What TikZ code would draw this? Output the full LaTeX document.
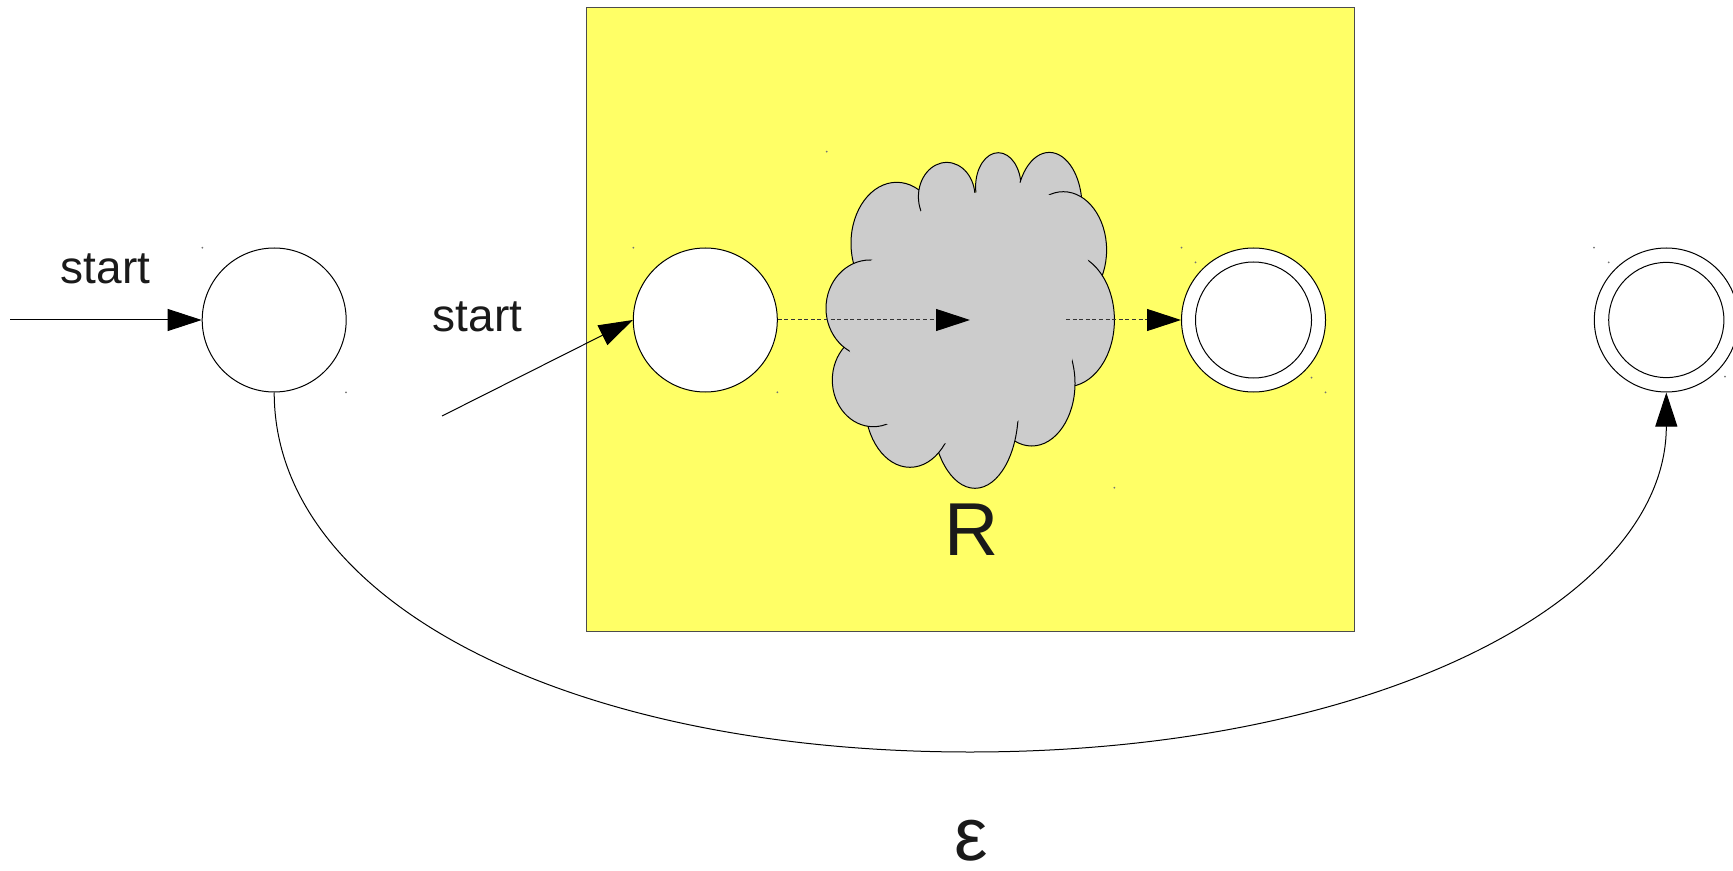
\documentclass[tikz,border=0pt]{standalone}
\usepackage{fontspec}
\setmainfont{Liberation Sans}
\usetikzlibrary{arrows.meta,calc}
\definecolor{yel}{HTML}{FFFF66}
\definecolor{cloudgray}{HTML}{CCCCCC}
\definecolor{txt}{HTML}{1A1A1A}
\begin{document}
\begin{tikzpicture}[x=0.5pt,y=-0.5pt,line width=0.5pt,
  state/.style={circle,draw,fill=white,minimum size=72pt,inner sep=0pt},
  lbl/.style={inner sep=0pt,anchor=base,text=txt},
  small/.style={font=\fontsize{23}{28}\selectfont},
  big/.style={font=\fontsize{37.5}{45}\selectfont},
  tip/.style={-{Triangle[length=17pt,width=11pt,color=black]}},
  dotline/.style={draw=black!80,dash pattern=on 2pt off 1.3pt},
  speck/.style={fill=black!55}]
\useasboundingbox (0,0) rectangle (1733,871);
% yellow box
\draw[fill=yel,draw=black!70] (586,7.7) rectangle (1354,631.7);
% cloud puffs
\foreach \cx/\cy/\rx/\ry in {896.7/243.3/45.7/61, 946.7/196.7/28.3/34.3,
  998.3/186.7/22.7/34, 1049.3/206.7/32.7/54.3, 1063.3/250/43.3/58.3,
  1066.7/320/47.7/66.7, 1031.7/383.3/43.3/62.7, 975/410/43.3/78.3,
  910/403.3/45/64, 873.3/380/41/46.7, 870/308.3/44/48.3}
  \draw[fill=cloudgray] (\cx,\cy) ellipse[x radius=\rx*0.5pt, y radius=\ry*0.5pt];
\coordinate (cc) at (975,320);
\fill[cloudgray] ($(cc)!0.93!(852.7,266.7)$) -- ($(cc)!0.93!(923.3,196.7)$)
  -- ($(cc)!0.93!(974.7,183.3)$) -- ($(cc)!0.93!(1021.7,171.7)$)
  -- ($(cc)!0.93!(1081.7,196.7)$) -- ($(cc)!0.93!(1101.7,276.7)$)
  -- ($(cc)!0.93!(1074.3,381.7)$) -- ($(cc)!0.93!(1017.3,431.7)$)
  -- ($(cc)!0.93!(934,455)$) -- ($(cc)!0.93!(865,425)$)
  -- ($(cc)!0.93!(839.3,350)$) -- cycle;
% states
\node[state] (q0) at (274.2,320) {};
\node[state] (s) at (705.3,320) {};
\node[state] (f) at (1253.5,320) {};
\draw (f.center) circle[radius=29pt];
\node[state] (qf) at (1666.3,320) {};
\draw (qf.center) circle[radius=28.8pt];
% coordinates
\coordinate (a0) at (10.4,320);
\coordinate (a1) at (442,416);
\coordinate (cin) at (970,320);
\coordinate (cout) at (1066,320);
% connectors
\draw[tip] (a0) -- (q0.west);
\draw[tip] (a1) -- (s.west);
\draw[dotline,tip] (s.east) -- (cin);
\draw[dotline,tip] (cout) -- (f.west);
\draw[tip] (q0.south) .. controls (274.2,600.8) and (566.3,752) .. (970,752)
  .. controls (1373.7,752) and (1666.3,600.8) .. (qf.south);
% labels
\node[lbl,small] (st1) at (105.7,283.3) {start};
\node[lbl,small] (st2) at (477.5,331.7) {start};
\node[lbl,big] (R) at (971.7,555) {R};
\node[lbl,big] (eps) at (971.7,860) {ε};
% tiny corner specks
\foreach \p in {(826.7,151.7),(1114.3,487.7),(202.3,247.7),(346,392.3),
  (633.3,247.7),(777.3,392.3),(1181.5,247.7),(1325.5,392.3),(1195.5,262.3),
  (1311.5,377.7),(1594,247.7),(1608.7,262.3),(1725,376.7)}
  \fill[speck] \p circle[radius=0.5pt];
\end{tikzpicture}
\end{document}
